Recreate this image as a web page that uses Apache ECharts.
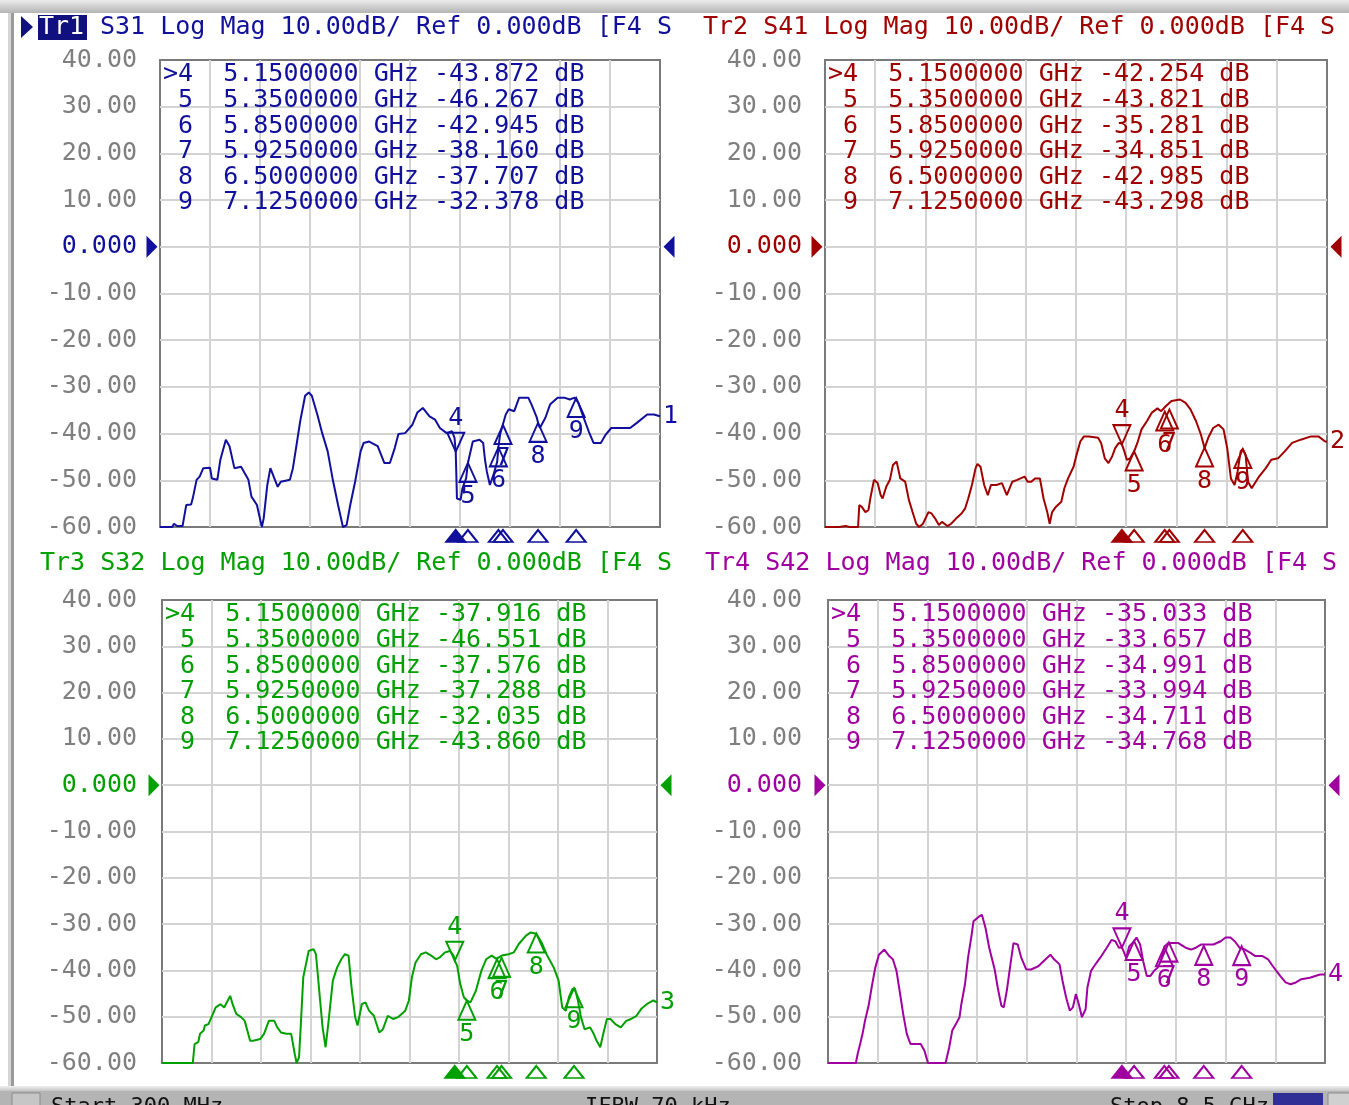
<!DOCTYPE html>
<html><head><meta charset="utf-8">
<script src="https://cdn.jsdelivr.net/npm/echarts@6/dist/echarts.min.js"></script>
<style>html,body{margin:0;padding:0;background:#fff;overflow:hidden}#c{width:1349px;height:1105px}</style>
</head><body><div id="c"></div>
<script>
// ---------- data ----------
const START_GHZ = 0.3, STOP_GHZ = 8.5;
const Y_MIN = -60, Y_MAX = 40, Y_STEP = 10;
const DIVISIONS = 10;
const traceNames = ['Tr1', 'Tr2', 'Tr3', 'Tr4'];
const traceParams = ['S31', 'S41', 'S32', 'S42'];
const headerRest = 'Log Mag 10.00dB/ Ref 0.000dB [F4 S';
const markerIds = [4, 5, 6, 7, 8, 9];
const markerFreqs = [5.15, 5.35, 5.85, 5.925, 6.5, 7.125];
const markerValsTr1 = [-43.872, -46.267, -42.945, -38.160, -37.707, -32.378];
const markerValsTr2 = [-42.254, -43.821, -35.281, -34.851, -42.985, -43.298];
const markerValsTr3 = [-37.916, -46.551, -37.576, -37.288, -32.035, -43.860];
const markerValsTr4 = [-35.033, -33.657, -34.991, -33.994, -34.711, -34.768];
const statusStart = 'Start 300 MHz';
const statusIfbw = 'IFBW 70 kHz';
const statusStop = 'Stop 8.5 GHz';

const traceTr1 = [[0.30,-60],[0.50,-60],[0.53,-59.3],[0.58,-59.8],[0.67,-59.8],[0.73,-55.3],[0.81,-55.2],[0.84,-53.7],[0.90,-49.9],[0.95,-49.2],[1.01,-47.4],[1.12,-47.3],[1.15,-49.6],[1.24,-49.9],[1.29,-45.6],[1.38,-41.3],[1.44,-42.7],[1.52,-47.4],[1.63,-47.1],[1.75,-49.9],[1.80,-53.5],[1.89,-55.3],[1.97,-60],[2.00,-58.2],[2.06,-51.0],[2.11,-47.4],[2.23,-51.4],[2.28,-50.3],[2.43,-49.9],[2.48,-47.4],[2.60,-37.3],[2.68,-31.9],[2.74,-31.2],[2.79,-31.9],[2.88,-35.9],[2.96,-39.9],[3.05,-43.8],[3.13,-49.6],[3.22,-55.3],[3.30,-60],[3.36,-59.6],[3.42,-55.3],[3.50,-50.3],[3.59,-43.8],[3.64,-42.0],[3.73,-41.7],[3.87,-42.7],[3.98,-46.3],[4.07,-46.3],[4.15,-43.1],[4.21,-40.1],[4.32,-39.9],[4.44,-38.1],[4.52,-35.5],[4.61,-34.5],[4.72,-36.3],[4.81,-37.0],[4.89,-38.8],[5.00,-39.9],[5.09,-39.5],[5.13,-40.9],[5.15,-43.9],[5.17,-53.9],[5.23,-54.2],[5.26,-51.7],[5.32,-49.6],[5.35,-46.3],[5.43,-41.7],[5.54,-41.3],[5.60,-42.0],[5.63,-45.6],[5.66,-48.1],[5.71,-51.0],[5.77,-48.8],[5.83,-46.0],[5.85,-42.9],[5.88,-40.0],[5.92,-38.2],[5.97,-35.9],[6.02,-34.8],[6.11,-35.2],[6.19,-32.3],[6.34,-32.3],[6.39,-33.7],[6.48,-36.6],[6.50,-37.7],[6.53,-38.8],[6.62,-36.6],[6.70,-33.7],[6.82,-32.3],[6.93,-32.3],[7.02,-32.7],[7.10,-32.3],[7.12,-32.4],[7.16,-33.4],[7.24,-36.3],[7.33,-39.5],[7.41,-42.0],[7.53,-42.0],[7.61,-40.2],[7.70,-38.8],[8.01,-38.8],[8.12,-37.7],[8.29,-35.9],[8.40,-35.9],[8.50,-36.3]];

const traceTr2 = [[0.30,-60],[0.47,-60],[0.50,-59.6],[0.53,-60],[0.64,-59.8],[0.67,-59.5],[0.70,-60],[0.84,-60],[0.86,-55.3],[0.90,-55.7],[0.96,-56.8],[1.01,-56.4],[1.04,-53.9],[1.10,-49.9],[1.16,-50.6],[1.21,-53.2],[1.24,-53.9],[1.30,-51.4],[1.36,-49.9],[1.41,-46.7],[1.47,-46.0],[1.53,-49.6],[1.61,-50.3],[1.67,-54.2],[1.73,-56.8],[1.79,-59.3],[1.84,-60],[1.90,-59.3],[1.99,-56.8],[2.04,-57.1],[2.10,-58.2],[2.16,-59.6],[2.21,-58.9],[2.30,-59.8],[2.36,-59.3],[2.44,-58.2],[2.53,-57.1],[2.59,-56.0],[2.64,-53.9],[2.70,-51.0],[2.76,-47.4],[2.79,-46.5],[2.84,-47.1],[2.90,-51.0],[2.96,-53.2],[3.01,-51.0],[3.10,-51.0],[3.19,-50.6],[3.27,-53.2],[3.36,-50.3],[3.44,-49.9],[3.56,-49.2],[3.61,-50.3],[3.67,-50.3],[3.73,-49.6],[3.81,-49.6],[3.87,-53.9],[3.93,-56.8],[3.97,-59.3],[4.01,-56.8],[4.07,-55.7],[4.16,-54.6],[4.21,-51.7],[4.27,-49.6],[4.36,-47.1],[4.41,-44.5],[4.47,-41.7],[4.53,-40.6],[4.61,-40.6],[4.76,-40.9],[4.81,-42.0],[4.87,-45.3],[4.93,-46.3],[4.99,-44.9],[5.04,-43.1],[5.10,-42.0],[5.15,-42.3],[5.19,-43.8],[5.23,-45.6],[5.28,-45.4],[5.35,-43.8],[5.41,-41.7],[5.47,-39.1],[5.56,-37.3],[5.64,-35.5],[5.73,-34.6],[5.79,-35.2],[5.87,-34.1],[5.96,-33.0],[6.10,-32.7],[6.19,-33.4],[6.27,-34.8],[6.36,-37.3],[6.44,-40.2],[6.50,-43.1],[6.56,-40.9],[6.64,-38.8],[6.73,-38.1],[6.81,-39.1],[6.87,-43.1],[6.93,-49.6],[6.99,-51.0],[7.04,-48.1],[7.09,-43.8],[7.12,-43.3],[7.17,-44.5],[7.21,-50.3],[7.27,-51.7],[7.30,-51.4],[7.39,-49.2],[7.50,-47.4],[7.59,-45.6],[7.70,-45.3],[7.81,-43.8],[7.93,-42.0],[8.07,-41.3],[8.24,-40.6],[8.36,-40.6],[8.47,-41.7],[8.50,-41.7]];

const traceTr3 = [[0.30,-60],[0.81,-60],[0.84,-55.9],[0.90,-55.5],[0.93,-53.7],[0.99,-53.0],[1.01,-51.9],[1.07,-51.6],[1.13,-49.8],[1.19,-48.0],[1.27,-47.3],[1.33,-48.0],[1.39,-46.5],[1.43,-45.5],[1.47,-47.3],[1.53,-49.4],[1.61,-50.1],[1.67,-50.9],[1.76,-55.2],[1.81,-55.2],[1.93,-54.8],[1.99,-53.7],[2.07,-50.9],[2.16,-50.9],[2.21,-52.3],[2.27,-53.4],[2.36,-53.7],[2.44,-53.7],[2.50,-58.1],[2.53,-60],[2.57,-58.8],[2.60,-51.6],[2.64,-41.5],[2.73,-35.8],[2.81,-35.4],[2.85,-36.5],[2.90,-43.7],[2.96,-52.3],[3.01,-56.6],[3.06,-50.9],[3.13,-42.2],[3.20,-39.4],[3.27,-37.6],[3.33,-36.5],[3.39,-36.8],[3.44,-43.7],[3.50,-50.1],[3.54,-51.9],[3.61,-47.3],[3.67,-46.9],[3.73,-48.7],[3.81,-49.8],[3.90,-53.4],[3.96,-52.7],[4.04,-49.8],[4.13,-50.5],[4.21,-50.1],[4.33,-48.7],[4.39,-46.5],[4.44,-41.5],[4.50,-38.3],[4.59,-36.5],[4.67,-36.1],[4.76,-36.8],[4.84,-37.6],[4.90,-37.2],[4.99,-36.1],[5.07,-35.8],[5.13,-36.8],[5.15,-37.9],[5.19,-39.0],[5.24,-42.9],[5.30,-45.8],[5.35,-46.5],[5.41,-46.9],[5.50,-44.4],[5.59,-40.1],[5.67,-37.6],[5.76,-36.8],[5.84,-37.5],[5.93,-36.8],[6.04,-36.5],[6.13,-36.1],[6.21,-34.3],[6.33,-32.5],[6.41,-31.8],[6.50,-32.1],[6.59,-34.0],[6.67,-36.5],[6.79,-39.4],[6.87,-42.2],[6.93,-48.0],[6.99,-48.7],[7.04,-45.8],[7.10,-44.0],[7.14,-43.9],[7.19,-46.5],[7.24,-50.1],[7.30,-52.7],[7.39,-52.3],[7.44,-53.4],[7.50,-55.2],[7.56,-56.6],[7.61,-53.7],[7.67,-50.5],[7.73,-50.5],[7.81,-51.6],[7.90,-52.3],[7.99,-50.9],[8.07,-50.5],[8.16,-49.8],[8.24,-48.3],[8.33,-47.3],[8.44,-46.5],[8.50,-46.9]];

const traceTr4 = [[0.30,-60],[0.76,-60],[0.79,-58.0],[0.83,-55.9],[0.87,-53.7],[0.91,-50.9],[0.97,-47.6],[1.02,-43.7],[1.08,-39.4],[1.14,-36.6],[1.23,-35.5],[1.31,-36.9],[1.37,-37.6],[1.43,-40.1],[1.49,-45.1],[1.54,-49.4],[1.60,-53.7],[1.66,-55.9],[1.83,-55.9],[1.89,-57.3],[1.95,-60],[2.24,-60],[2.30,-56.6],[2.35,-53.0],[2.41,-51.6],[2.47,-50.1],[2.50,-47.3],[2.56,-43.0],[2.61,-37.3],[2.67,-32.3],[2.70,-29.4],[2.79,-28.4],[2.84,-28.0],[2.90,-30.9],[2.96,-35.1],[3.05,-39.8],[3.10,-43.7],[3.16,-47.6],[3.20,-48.0],[3.25,-44.4],[3.31,-38.7],[3.36,-34.1],[3.43,-34.4],[3.49,-37.3],[3.57,-39.8],[3.65,-39.8],[3.77,-39.1],[3.89,-37.6],[3.97,-36.6],[4.03,-37.6],[4.12,-38.7],[4.17,-42.3],[4.23,-45.9],[4.29,-48.7],[4.34,-48.0],[4.39,-45.1],[4.43,-46.9],[4.49,-50.1],[4.55,-48.4],[4.58,-43.7],[4.64,-40.1],[4.69,-39.1],[4.75,-38.0],[4.81,-36.9],[4.90,-35.1],[4.98,-33.4],[5.04,-33.7],[5.10,-35.1],[5.15,-35.0],[5.22,-37.3],[5.27,-34.8],[5.35,-33.7],[5.39,-32.9],[5.45,-34.4],[5.50,-38.0],[5.56,-41.2],[5.62,-41.2],[5.68,-40.1],[5.74,-39.4],[5.79,-38.0],[5.85,-34.9],[5.91,-34.1],[6.08,-34.1],[6.20,-35.1],[6.29,-35.5],[6.37,-35.1],[6.46,-34.4],[6.66,-34.4],[6.78,-33.7],[6.86,-32.9],[6.94,-32.9],[7.01,-33.7],[7.09,-35.1],[7.18,-35.5],[7.27,-36.2],[7.35,-36.9],[7.47,-36.9],[7.56,-37.6],[7.64,-39.1],[7.76,-41.2],[7.85,-42.6],[7.93,-43.0],[8.02,-42.6],[8.11,-41.9],[8.25,-41.6],[8.34,-41.2],[8.42,-40.9],[8.50,-40.9]];

// ---------- layout / style ----------
const FONT = 'DejaVu Sans Mono';
const FS = 25;
const GRAY_LABEL = '#7f7f7f';
const GRID_LINE = '#d3d3d3';
const traces = [traceTr1, traceTr2, traceTr3, traceTr4];
const markerVals = [markerValsTr1, markerValsTr2, markerValsTr3, markerValsTr4];
const panels = [
  {left: 160, top: 60, width: 500, height: 467, color: '#10109c', margin: 23, headX: 100, headY: 27},
  {left: 825, top: 60, width: 502, height: 467, color: '#a00000', margin: 23, headX: 703, headY: 27},
  {left: 162, top: 600, width: 495, height: 463, color: '#00a000', margin: 25, headX: 40, headY: 563},
  {left: 828, top: 600, width: 497, height: 463, color: '#a000a0', margin: 26, headX: 705, headY: 563}
];
const TRI_UP = 'path://M5,0L10,10L0,10Z';
const TRI_DOWN = 'path://M0,0L10,0L5,10Z';
const TRI_RIGHT = 'path://M0,0L10,5L0,10Z';
const TRI_LEFT = 'path://M10,0L0,5L10,10Z';
const HOLLOW = 'rgba(255,255,255,0)';

function tableText(vals) {
  return markerIds.map((id, i) =>
    (i === 0 ? '>' : ' ') + id + '  ' + markerFreqs[i].toFixed(7) + ' GHz ' + vals[i].toFixed(3) + ' dB'
  ).join('\n');
}

const grid = [], xAxis = [], yAxis = [], series = [], graphic = [];

panels.forEach((p, i) => {
  const c = p.color;
  grid.push({left: p.left, top: p.top, width: p.width, height: p.height, show: true,
    borderColor: '#7a7a7a', borderWidth: 2, backgroundColor: '#ffffff', containLabel: false});
  xAxis.push({gridIndex: i, type: 'value', min: START_GHZ, max: STOP_GHZ, show: false});
  xAxis.push({gridIndex: i, type: 'value', min: 0, max: DIVISIONS, interval: 1,
    axisLine: {show: false}, axisTick: {show: false}, axisLabel: {show: false},
    splitLine: {show: true, showMinLine: false, showMaxLine: false, lineStyle: {color: GRID_LINE, width: 2}}});
  yAxis.push({gridIndex: i, type: 'value', min: Y_MIN, max: Y_MAX, interval: Y_STEP,
    axisLine: {show: false}, axisTick: {show: false},
    axisLabel: {margin: p.margin, fontFamily: FONT, fontSize: FS,
      formatter: v => (Number(v) === 0 ? '0.000' : Number(v).toFixed(2)),
      color: v => (Number(v) === 0 ? c : GRAY_LABEL)},
    splitLine: {show: true, showMinLine: false, showMaxLine: false, lineStyle: {color: GRID_LINE, width: 2}}});

  const xi = 2 * i;
  // trace
  series.push({type: 'line', xAxisIndex: xi, yAxisIndex: i, data: traces[i], showSymbol: false, symbol: 'none',
    lineStyle: {color: c, width: 2}, itemStyle: {color: c}, silent: true, z: 3,
    endLabel: {show: true, formatter: String(i + 1), color: c, fontFamily: FONT, fontSize: FS, distance: 3}});
  const vals = markerVals[i];
  // passive markers (upward triangles below the trace)
  series.push({type: 'scatter', xAxisIndex: xi, yAxisIndex: i, z: 4, silent: true, clip: false,
    data: markerIds.slice(1).map((id, k) => ({name: String(id), value: [markerFreqs[k + 1], vals[k + 1]]})),
    symbol: TRI_UP, symbolSize: [17, 19], symbolOffset: [0, 9.5],
    itemStyle: {color: HOLLOW, borderColor: c, borderWidth: 2, opacity: 1},
    label: {show: true, position: 'bottom', distance: 1, formatter: '{b}', color: c, fontFamily: FONT, fontSize: FS}});
  // active marker (downward triangle above the trace)
  series.push({type: 'scatter', xAxisIndex: xi, yAxisIndex: i, z: 4, silent: true, clip: false,
    data: [{name: String(markerIds[0]), value: [markerFreqs[0], vals[0]]}],
    symbol: TRI_DOWN, symbolSize: [17, 19], symbolOffset: [0, -9.5],
    itemStyle: {color: HOLLOW, borderColor: c, borderWidth: 2, opacity: 1},
    label: {show: true, position: 'top', distance: 1, formatter: '{b}', color: c, fontFamily: FONT, fontSize: FS}});
  // marker indicators under the x axis
  series.push({type: 'scatter', xAxisIndex: xi, yAxisIndex: i, z: 4, silent: true, clip: false,
    data: markerFreqs.map((f, k) => ({value: [f, Y_MIN],
      itemStyle: {color: k === 0 ? c : HOLLOW, borderColor: c, borderWidth: 2, opacity: 1}})),
    symbol: TRI_UP, symbolSize: [19, 12], symbolOffset: [0, 9]});
  // reference level arrows
  series.push({type: 'scatter', xAxisIndex: xi, yAxisIndex: i, z: 4, silent: true, clip: false,
    data: [{value: [START_GHZ, 0], symbol: TRI_RIGHT, symbolOffset: [-8, 0]},
           {value: [STOP_GHZ, 0], symbol: TRI_LEFT, symbolOffset: [9, 0]}],
    symbolSize: [11, 22], itemStyle: {color: c, opacity: 1}});

  // marker table
  graphic.push({type: 'text', x: p.left + 3, y: p.top + 2, z: 10, silent: true,
    style: {text: tableText(vals), fill: c, fontFamily: FONT, fontSize: FS, lineHeight: 25.6, verticalAlign: 'top'}});
  // header
  const head = (i === 0 ? '' : traceNames[i] + ' ') + traceParams[i] + ' ' + headerRest;
  graphic.push({type: 'text', x: p.headX, y: p.headY, z: 10, silent: true,
    style: {text: head, fill: c, fontFamily: FONT, fontSize: FS, verticalAlign: 'middle'}});
});

// active-trace badge (Tr1)
graphic.push({type: 'polygon', z: 10, silent: true, shape: {points: [[21, 16], [33, 27], [21, 38]]}, style: {fill: '#10107e'}});
graphic.push({type: 'rect', z: 10, silent: true, shape: {x: 38, y: 15, width: 49, height: 25}, style: {fill: '#10107e'}});
graphic.push({type: 'text', x: 39, y: 27, z: 11, silent: true,
  style: {text: traceNames[0], fill: '#ffffff', fontFamily: FONT, fontSize: FS, verticalAlign: 'middle'}});

// window frame
graphic.push({type: 'rect', z: 1, silent: true, shape: {x: 0, y: 0, width: 1349, height: 13},
  style: {fill: new echarts.graphic.LinearGradient(0, 0, 0, 1, [{offset: 0, color: '#ececec'}, {offset: 1, color: '#b4b4b4'}])}});
graphic.push({type: 'rect', z: 1, silent: true, shape: {x: 8, y: 13, width: 3, height: 1076}, style: {fill: '#d6d6d6'}});
graphic.push({type: 'rect', z: 1, silent: true, shape: {x: 11, y: 13, width: 3, height: 1076}, style: {fill: '#9a9a9a'}});
graphic.push({type: 'rect', z: 1, silent: true, shape: {x: 0, y: 1086, width: 1349, height: 5},
  style: {fill: new echarts.graphic.LinearGradient(0, 0, 0, 1, [{offset: 0, color: '#f0f0f0'}, {offset: 1, color: '#c4c4c4'}])}});
graphic.push({type: 'rect', z: 1, silent: true, shape: {x: 0, y: 1091, width: 1349, height: 14}, style: {fill: '#b4b4b4'}});
graphic.push({type: 'rect', z: 4, silent: true, shape: {x: 12, y: 1093, width: 28, height: 14}, style: {fill: '#c6c6c6', stroke: '#8a8a8a', lineWidth: 1}});
graphic.push({type: 'rect', z: 4, silent: true, shape: {x: 1273, y: 1093, width: 50, height: 14}, style: {fill: '#2f2f96'}});
graphic.push({type: 'rect', z: 4, silent: true, shape: {x: 1328, y: 1093, width: 22, height: 14}, style: {fill: '#d0d0d0', stroke: '#8a8a8a', lineWidth: 1}});
[[statusStart, 51], [statusIfbw, 585], [statusStop, 1110]].forEach(([t, x]) => {
  graphic.push({type: 'text', x: x, y: 1096, z: 3, silent: true,
    style: {text: t, fill: '#111111', fontFamily: FONT, fontSize: 22, verticalAlign: 'top'}});
});

const chart = echarts.init(document.getElementById('c'), null, {renderer: 'canvas'});
chart.setOption({
  animation: false,
  backgroundColor: '#ffffff',
  grid, xAxis, yAxis, series, graphic
});
</script>
</body></html>
